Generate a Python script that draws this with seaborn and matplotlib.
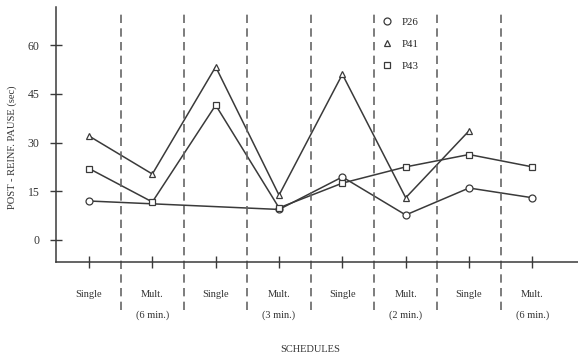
import numpy as np
import pandas as pd
import matplotlib
matplotlib.use("Agg")
import matplotlib.pyplot as plt
import seaborn as sns
from matplotlib.lines import Line2D

# ---------------- DATA ----------------
schedules = ["Single", "Mult.", "Single", "Mult.", "Single", "Mult.", "Single", "Mult."]
durations = ["(6 min.)", "(3 min.)", "(2 min.)", "(6 min.)"]
positions = [1, 2, 3, 4, 5, 6, 7, 8]

p26 = [12, None, None, 9.4, 19.4, 7.7, 16, 13]
p41 = [32, 20.3, 53.3, 13.8, 51, 13, 33.6, None]
p43 = [22, 11.7, 41.5, 9.9, 17.5, 22.5, 26.3, 22.5]

yticks = [0, 15, 30, 45, 60]

series = {"P26": (p26, "o"), "P41": (p41, "^"), "P43": (p43, "s")}

# ---------------- STYLE ----------------
sns.set_theme(style="white")
plt.rcParams["font.family"] = ["Liberation Serif", "DejaVu Serif"]
ink = "#3a3a3a"
txt = "#333333"

fig = plt.figure(figsize=(5.78, 3.59), dpi=100)
ax = fig.add_axes([56 / 578, 1 - 262 / 359, 1 - 56 / 578, (262 - 7) / 359])

for name, (vals, mk) in series.items():
    df = pd.DataFrame({"x": positions, "y": vals}).dropna()
    sns.lineplot(data=df, x="x", y="y", ax=ax, color=ink, lw=1.1,
                 marker=mk, markersize=5, markerfacecolor="white",
                 markeredgecolor=ink, markeredgewidth=0.9,
                 estimator=None, sort=False)

# dashed separators between schedules
mids = [p + 0.5 for p in positions[:-1]]
ax.vlines(mids, -21.5, 69.8, colors="#666666", linestyles=(0, (5, 3.2)),
          lw=1.2, clip_on=False)

ax.set_xlim(0.479, 8.72)
ax.set_ylim(-6.77, 71.7)

ax.set_yticks(yticks)
ax.set_yticklabels([str(v) for v in yticks], fontsize=8.5, color=txt)
ax.set_xticks(positions)
ax.set_xticklabels(schedules, fontsize=7.5, color=txt)
ax.tick_params(axis="both", direction="inout", length=8, width=1.0,
               color=ink, left=True, bottom=True)
ax.tick_params(axis="x", pad=16)
ax.tick_params(axis="y", pad=8)

for s in ["top", "right"]:
    ax.spines[s].set_visible(False)
for s in ["left", "bottom"]:
    ax.spines[s].set_color(ink)
    ax.spines[s].set_linewidth(1.1)

# interval durations under the Mult. columns
for i, d in enumerate(durations):
    ax.text(positions[2 * i + 1], -0.21, d, transform=ax.get_xaxis_transform(),
            ha="center", va="center", fontsize=7.5, color=txt)

ax.set_xlabel("")
ax.set_ylabel("")
fig.text(12 / 578, 1 - 147 / 359, "POST - REINF. PAUSE (sec)", rotation=90,
         ha="center", va="center", fontsize=7.6, color=txt)
fig.text(310 / 578, 1 - 350 / 359, "SCHEDULES", ha="center", va="center",
         fontsize=7.5, color=txt)

handles = [Line2D([], [], ls="none", marker=mk, markersize=5, markerfacecolor="white",
                  markeredgecolor=ink, markeredgewidth=0.9)
           for (vals, mk) in series.values()]
ax.legend(handles, list(series.keys()), loc="upper left",
          bbox_to_anchor=(376 / 578, 1 - 12 / 359), bbox_transform=fig.transFigure,
          frameon=False, fontsize=7.8, handlelength=1.0, handletextpad=0.9,
          labelspacing=1.15, borderpad=0)

fig.savefig("out.png", dpi=100)
